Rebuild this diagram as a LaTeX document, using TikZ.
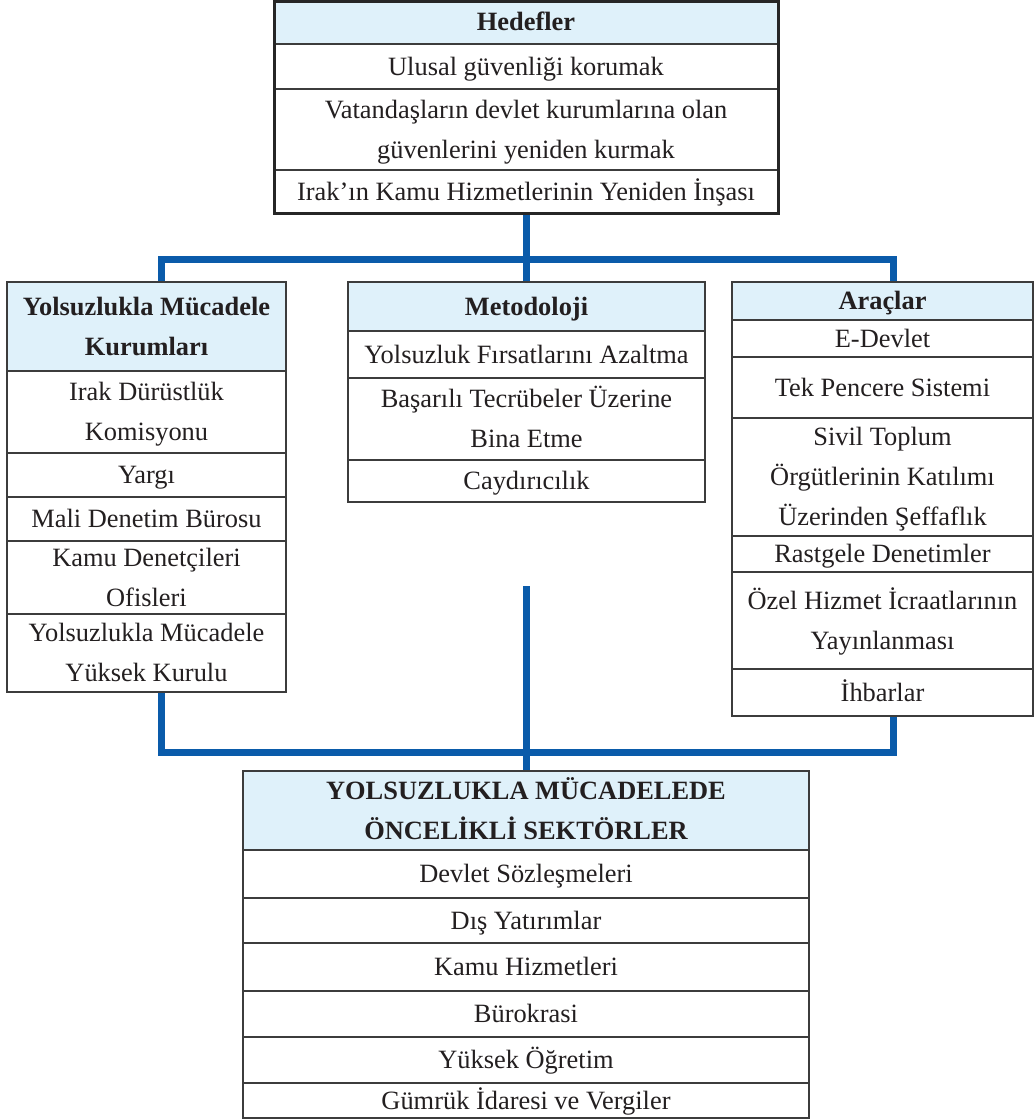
\documentclass[tikz,border=0pt]{standalone}
\usepackage{fontspec}
\setmainfont{Liberation Serif}
\definecolor{connblue}{HTML}{0A5BAA}
\definecolor{hdr}{HTML}{DFF1FA}
\definecolor{bord}{HTML}{3C3C3C}
\definecolor{ink}{HTML}{231F20}
\tikzset{
  box/.style={draw=bord, line width=1.8pt, fill=white, inner sep=0pt, outer sep=0pt},
  topbox/.style={box, draw=black!85, line width=3pt},
  sepline/.style={draw=bord, line width=1.5pt},
  conn/.style={draw=connblue, line width=7pt, line join=miter},
  txt/.style={font=\fontsize{26.4}{40}\selectfont, text=ink, inner sep=0pt, text height=18.5pt, text depth=1pt, anchor=center},
  btxt/.style={txt, font=\fontsize{26.4}{40}\selectfont\bfseries}
}
\begin{document}
\begin{tikzpicture}[x=1pt,y=-1pt]
\useasboundingbox (0,0) rectangle (1035,1119);
% box outlines as nodes
\node[topbox, minimum width=504pt, minimum height=211.5pt] (hedef) at (526,107.25) {};
\node[box, minimum width=279pt, minimum height=410pt] (kurum) at (146.5,487) {};
\node[box, minimum width=357pt, minimum height=220pt] (metod) at (526.5,392) {};
\node[box, minimum width=301pt, minimum height=434pt] (arac) at (882.5,499) {};
\node[box, minimum width=566pt, minimum height=347pt] (sektor) at (526,944.5) {};
% coordinates for connectors
\coordinate (xL) at (161,0);
\coordinate (xR) at (893,0);
\coordinate (busTop) at (0,259);
\coordinate (busBot) at (0,752);
\coordinate (midTop) at (526.5,586);
% connectors
\draw[conn] (hedef.south) -- (hedef.south |- metod.north);
\draw[conn] (kurum.north -| xL) -- (xL |- busTop) -- (xR |- busTop) -- (arac.north -| xR);
\draw[conn] (kurum.south -| xL) -- (xL |- busBot) -- (xR |- busBot) -- (arac.south -| xR);
\draw[conn] (midTop) -- (midTop |- sektor.north);
% headers
\fill[hdr] (hedef.north west) rectangle (778,44);
\fill[hdr] (kurum.north west) rectangle (286,371);
\fill[hdr] (metod.north west) rectangle (705,331);
\fill[hdr] (arac.north west) rectangle (1033,320);
\fill[hdr] (sektor.north west) rectangle (809,850);
% separators
\foreach \y in {44,89,170} \draw[sepline] (274,\y) -- (778,\y);
\foreach \y in {371,453,497,541,614} \draw[sepline] (7,\y) -- (286,\y);
\foreach \y in {331,378,460} \draw[sepline] (348,\y) -- (705,\y);
\foreach \y in {320,357,418,536,572,669} \draw[sepline] (732,\y) -- (1033,\y);
\foreach \y in {850,898,943,991,1037,1083} \draw[sepline] (243,\y) -- (809,\y);
% outlines again on top
\draw[topbox, fill=none] (hedef.north west) rectangle (hedef.south east);
\draw[box, fill=none] (kurum.north west) rectangle (kurum.south east);
\draw[box, fill=none] (metod.north west) rectangle (metod.south east);
\draw[box, fill=none] (arac.north west) rectangle (arac.south east);
\draw[box, fill=none] (sektor.north west) rectangle (sektor.south east);
% texts: top box
\node[btxt] (h0) at (526,22) {Hedefler};
\node[txt] (h1) at (526,66.5) {Ulusal güvenliği korumak};
\node[txt] (h2a) at (526,109.5) {Vatandaşların devlet kurumlarına olan};
\node[txt] (h2b) at (526,149.5) {güvenlerini yeniden kurmak};
\node[txt] (h3) at (526,191.5) {Irak’ın Kamu Hizmetlerinin Yeniden İnşası};
% left box
\node[btxt] (k0a) at (146.5,306.5) {Yolsuzlukla Mücadele};
\node[btxt] (k0b) at (146.5,346.5) {Kurumları};
\node[txt] (k1a) at (146.5,392) {Irak Dürüstlük};
\node[txt] (k1b) at (146.5,432) {Komisyonu};
\node[txt] (k2) at (146.5,475) {Yargı};
\node[txt] (k3) at (146.5,519) {Mali Denetim Bürosu};
\node[txt] (k4a) at (146.5,557.5) {Kamu Denetçileri};
\node[txt] (k4b) at (146.5,597.5) {Ofisleri};
\node[txt] (k5a) at (146.5,633) {Yolsuzlukla Mücadele};
\node[txt] (k5b) at (146.5,673) {Yüksek Kurulu};
% middle box
\node[btxt] (m0) at (526.5,306.5) {Metodoloji};
\node[txt] (m1) at (526.5,354.5) {Yolsuzluk Fırsatlarını Azaltma};
\node[txt] (m2a) at (526.5,399) {Başarılı Tecrübeler Üzerine};
\node[txt] (m2b) at (526.5,439) {Bina Etme};
\node[txt] (m3) at (526.5,481) {Caydırıcılık};
% right box
\node[btxt] (a0) at (882.5,301) {Araçlar};
\node[txt] (a1) at (882.5,338.5) {E-Devlet};
\node[txt] (a2) at (882.5,387.5) {Tek Pencere Sistemi};
\node[txt] (a3a) at (882.5,437) {Sivil Toplum};
\node[txt] (a3b) at (882.5,477) {Örgütlerinin Katılımı};
\node[txt] (a3c) at (882.5,517) {Üzerinden Şeffaflık};
\node[txt] (a4) at (882.5,554) {Rastgele Denetimler};
\node[txt] (a5a) at (882.5,600.5) {Özel Hizmet İcraatlarının};
\node[txt] (a5b) at (882.5,640.5) {Yayınlanması};
\node[txt] (a6) at (882.5,692.5) {İhbarlar};
% bottom box
\node[btxt] (s0a) at (526,790.5) {YOLSUZLUKLA MÜCADELEDE};
\node[btxt] (s0b) at (526,830.5) {ÖNCELİKLİ SEKTÖRLER};
\node[txt] (s1) at (526,874) {Devlet Sözleşmeleri};
\node[txt] (s2) at (526,920.5) {Dış Yatırımlar};
\node[txt] (s3) at (526,967) {Kamu Hizmetleri};
\node[txt] (s4) at (526,1014) {Bürokrasi};
\node[txt] (s5) at (526,1060) {Yüksek Öğretim};
\node[txt] (s6) at (526,1100.5) {Gümrük İdaresi ve Vergiler};
\end{tikzpicture}
\end{document}
